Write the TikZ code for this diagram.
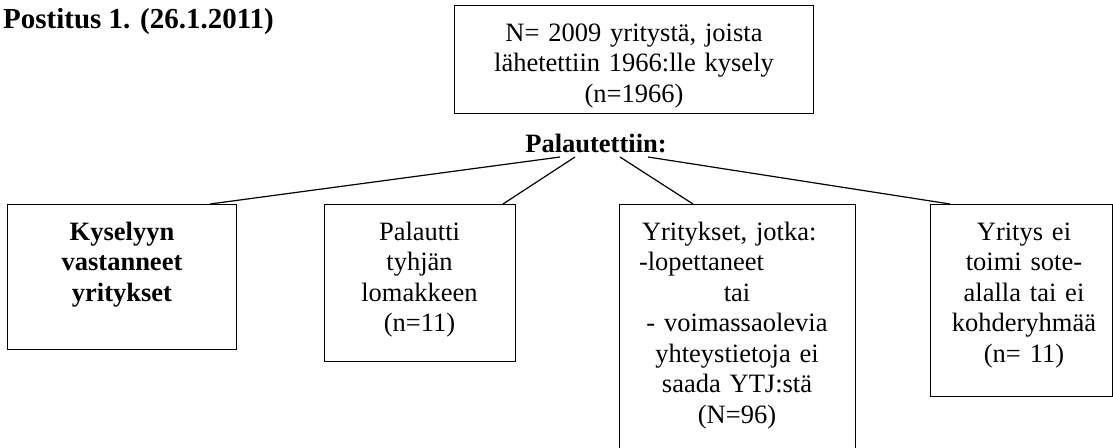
\documentclass[tikz,border=0pt]{standalone}
\usepackage{fontspec}
\setmainfont{Liberation Serif}
\begin{document}
\begin{tikzpicture}[x=1pt,y=-1pt,
  boxst/.style={draw=black, line width=1.4pt, inner sep=0pt, anchor=north west},
  txt/.style={inner sep=0pt, anchor=base, align=center, font=\fontsize{26.5}{30.5}\selectfont},
  conn/.style={draw=black, line width=1.2pt}]
\useasboundingbox (0,0) rectangle (1113,447);
\clip (0,0) rectangle (1113,447);
% title
\node[inner sep=0pt, anchor=base west, font=\fontsize{29}{34}\selectfont\bfseries] (title) at (3,28) {Postitus 1. (26.1.2011)};
% top box
\node[boxst, minimum width=359pt, minimum height=108pt] (top) at (454,5) {};
\node[txt, text width=350pt] (ttop) at (634,41) {N= 2009 yritystä, joista\\lähetettiin 1966:lle kysely\\(n=1966)};
% label
\node[inner sep=0pt, anchor=base, font=\fontsize{26.5}{30.5}\selectfont\bfseries] (p) at (596,152) {Palautettiin:};
% boxes
\node[boxst, minimum width=229pt, minimum height=145pt] (b1) at (7,204) {};
\node[txt, text width=210pt, font=\fontsize{26.5}{30.5}\selectfont\bfseries] (t1) at (122,240) {Kyselyyn\\vastanneet\\yritykset};
\node[boxst, minimum width=191pt, minimum height=157pt] (b2) at (324,204) {};
\node[txt, text width=180pt] (t2) at (419.5,240) {Palautti\\tyhjän\\lomakkeen\\(n=11)};
\node[boxst, minimum width=236pt, minimum height=270pt] (b3) at (619,204) {};
\node[txt, text width=200pt] (t3) at (737,240) {\makebox[\linewidth][l]{\hspace{5pt}Yritykset, jotka:}\\\makebox[\linewidth][l]{\hspace{2pt}-lopettaneet}\\tai\\- voimassaolevia\\yhteystietoja ei\\saada YTJ:stä\\(N=96)};
\node[boxst, minimum width=182pt, minimum height=192pt] (b4) at (930,204) {};
\node[txt, text width=175pt] (t4) at (1024,240) {Yritys ei\\toimi sote-\\alalla tai ei\\kohderyhmää\\(n= 11)};
% connectors
\draw[conn] ([xshift=-36pt,yshift=-5pt]p.base) -- ([xshift=203pt]b1.north west);
\draw[conn] ([xshift=-21pt,yshift=-5pt]p.base) -- ([xshift=179pt]b2.north west);
\draw[conn] ([xshift=24pt,yshift=-5pt]p.base) -- ([xshift=74pt]b3.north west);
\draw[conn] ([xshift=52pt,yshift=-5pt]p.base) -- ([xshift=20pt]b4.north west);
\end{tikzpicture}
\end{document}
